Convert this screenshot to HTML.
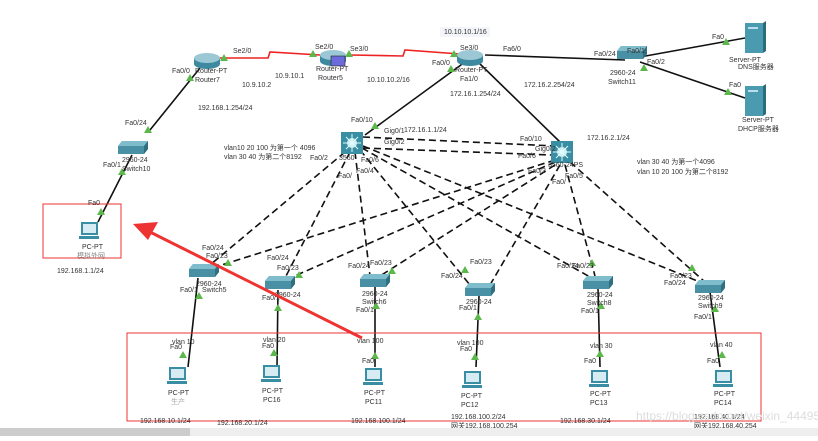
<!DOCTYPE html>
<html><head><meta charset="utf-8"><style>
body{margin:0;width:818px;height:436px;overflow:hidden;background:#fff;font-family:"Liberation Sans","Noto Sans CJK SC",sans-serif}
svg text{font-family:"Liberation Sans","Noto Sans CJK SC",sans-serif;font-size:7px;fill:#333}
.lb{fill:#f3f5fa}
</style></head><body>
<svg width="818" height="436" viewBox="0 0 818 436">
<defs>
<g id="sw"><path d="M-15,-4 L-11,-9 L15,-9 L15,-1 L11,4 L-15,4 Z" fill="#4a90a4"/><path d="M-15,-4 L-11,-9 L15,-9 L11,-4 Z" fill="#7fbccc"/><path d="M11,-4 L15,-9 L15,-1 L11,4Z" fill="#2f6f80"/></g>
<g id="ml"><rect x="-11" y="-11" width="22" height="22" fill="#3a8ea3"/><circle r="5" fill="#cfe8ef"/><path d="M-9,0H9M0,-9V9M-6,-6L6,6M6,-6L-6,6" stroke="#dff" stroke-width="1"/></g>
<g id="rt"><ellipse cx="0" cy="4" rx="13" ry="5" fill="#3d8aa0"/><rect x="-13" y="-2" width="26" height="6" fill="#3d8aa0"/><ellipse cx="0" cy="-2" rx="13" ry="5" fill="#9cc8d6"/></g>
<g id="pc"><rect x="-9" y="-10" width="17" height="13" fill="#3a8ea3"/><rect x="-7" y="-8" width="13" height="9" fill="#d6ecf2"/><rect x="-11" y="4" width="20" height="3" fill="#3a8ea3"/></g>
<g id="sv"><rect x="-9" y="-14" width="18" height="30" fill="#4a9ab0"/><path d="M9,-14 L12,-16 L12,14 L9,16Z" fill="#2c6b7c"/><rect x="-6" y="-10" width="10" height="2" fill="#bde"/></g>
<path id="g" d="M-4,3 L0,-4 L4,3Z" fill="#5cb84a"/>
</defs>
<g stroke="#111" stroke-width="1.6" fill="none">
<line x1="200" y1="68" x2="150" y2="130"/><line x1="132" y1="155" x2="98" y2="222"/>
<line x1="465" y1="62" x2="365" y2="135"/><line x1="478" y1="62" x2="560" y2="142"/>
<line x1="485" y1="55" x2="625" y2="60"/><line x1="640" y1="57" x2="745" y2="38"/><line x1="640" y1="62" x2="745" y2="98"/>
<line x1="198" y1="278" x2="188" y2="367"/><line x1="278" y1="290" x2="277" y2="367"/><line x1="375" y1="287" x2="375" y2="367"/>
<line x1="479" y1="296" x2="476" y2="367"/><line x1="598" y1="288" x2="600" y2="367"/><line x1="710" y1="292" x2="720" y2="367"/>
</g>
<path d="M215,58 L268,58 L270,52 L320,55 M350,55 L403,56 L405,50 L460,54" stroke="#e22" stroke-width="1.6" fill="none"/>
<g stroke="#111" stroke-width="1.6" stroke-dasharray="7,4" fill="none">
<line x1="363" y1="137" x2="555" y2="146"/><line x1="363" y1="148" x2="552" y2="155"/>
<line x1="345" y1="152" x2="210" y2="265"/><line x1="350" y1="152" x2="285" y2="278"/><line x1="355" y1="152" x2="370" y2="276"/>
<line x1="360" y1="150" x2="470" y2="285"/><line x1="362" y1="148" x2="590" y2="277"/><line x1="363" y1="146" x2="700" y2="282"/>
<line x1="555" y1="160" x2="212" y2="268"/><line x1="555" y1="162" x2="290" y2="278"/><line x1="555" y1="165" x2="380" y2="276"/>
<line x1="560" y1="165" x2="490" y2="285"/><line x1="565" y1="165" x2="595" y2="276"/><line x1="570" y1="162" x2="705" y2="282"/>
</g>
<g>
<use href="#g" x="224" y="58"/><use href="#g" x="313" y="54"/><use href="#g" x="349" y="54"/><use href="#g" x="454" y="54"/>
<use href="#g" x="190" y="78"/><use href="#g" x="148" y="130"/><use href="#g" x="122" y="172"/><use href="#g" x="101" y="212"/>
<use href="#g" x="375" y="126"/><use href="#g" x="451" y="69"/><use href="#g" x="644" y="68"/><use href="#g" x="726" y="42"/><use href="#g" x="728" y="92"/>
<use href="#g" x="199" y="296"/><use href="#g" x="278" y="308"/><use href="#g" x="376" y="306"/><use href="#g" x="478" y="317"/><use href="#g" x="601" y="306"/><use href="#g" x="715" y="309"/>
<use href="#g" x="183" y="355"/><use href="#g" x="274" y="353"/><use href="#g" x="375" y="356"/><use href="#g" x="475" y="357"/><use href="#g" x="600" y="354"/><use href="#g" x="722" y="355"/>
<use href="#g" x="228" y="263"/><use href="#g" x="299" y="275"/><use href="#g" x="392" y="271"/><use href="#g" x="465" y="270"/><use href="#g" x="592" y="263"/><use href="#g" x="692" y="268"/>
</g>
<rect x="43" y="204" width="78" height="54" fill="none" stroke="#e33" stroke-width="1"/>
<rect x="127" y="333" width="634" height="88" fill="none" stroke="#e33" stroke-width="1"/>
<use href="#rt" x="207" y="60"/><use href="#rt" x="333" y="57"/><rect x="331" y="56" width="14" height="10" fill="#6b6bdc" stroke="#222" stroke-width=".6"/><use href="#rt" x="470" y="57"/>
<use href="#sw" x="632" y="55"/><use href="#sv" x="754" y="37"/><use href="#sv" x="754" y="100"/>
<use href="#sw" x="133" y="150"/><use href="#ml" x="352" y="143"/><use href="#ml" x="562" y="152"/>
<use href="#sw" x="204" y="273"/><use href="#sw" x="280" y="285"/><use href="#sw" x="375" y="283"/><use href="#sw" x="480" y="292"/><use href="#sw" x="598" y="285"/><use href="#sw" x="710" y="289"/>
<use href="#pc" x="90" y="232"/><use href="#pc" x="178" y="377"/><use href="#pc" x="272" y="375"/><use href="#pc" x="374" y="378"/><use href="#pc" x="473" y="381"/><use href="#pc" x="600" y="380"/><use href="#pc" x="724" y="380"/>
<rect class="lb" x="440" y="27" width="50" height="10"/><text x="444" y="34">10.10.10.1/16</text>
<text x="233" y="53">Se2/0</text><text x="315" y="49">Se2/0</text><text x="350" y="51">Se3/0</text><text x="460" y="50">Se3/0</text><text x="503" y="51">Fa6/0</text>
<text x="172" y="73">Fa0/0</text><text x="195" y="73">Router-PT</text><text x="195" y="82">Router7</text>
<text x="316" y="71">Router-PT</text><text x="318" y="80">Router5</text><text x="432" y="65">Fa0/0</text><text x="455" y="72">Router-PT</text><text x="460" y="81">Fa1/0</text>
<text x="275" y="78">10.9.10.1</text><text x="242" y="87">10.9.10.2</text><text x="367" y="82">10.10.10.2/16</text>
<text x="450" y="96">172.16.1.254/24</text><text x="524" y="87">172.16.2.254/24</text><text x="198" y="110">192.168.1.254/24</text>
<text x="594" y="56">Fa0/24</text><text x="627" y="53">Fa0/1</text><text x="647" y="64">Fa0/2</text><text x="610" y="75">2960-24</text><text x="608" y="84">Switch11</text>
<text x="712" y="39">Fa0</text><text x="729" y="62">Server-PT</text><text x="738" y="69">DNS服务器</text>
<text x="729" y="87">Fa0</text><text x="742" y="122">Server-PT</text><text x="738" y="131">DHCP服务器</text>
<text x="125" y="125">Fa0/24</text><text x="103" y="167">Fa0/1</text><text x="122" y="162">2960-24</text><text x="122" y="171">Switch10</text>
<text x="88" y="205">Fa0</text><text x="82" y="249">PC-PT</text><text x="77" y="258" style="fill:#888">模拟外网</text><text x="57" y="273">192.168.1.1/24</text>
<text x="351" y="122">Fa0/10</text><text x="384" y="133">Gig0/1</text><text x="384" y="144">Gig0/2</text><text x="404" y="132">172.16.1.1/24</text>
<text x="224" y="150">vlan10 20 100 为第一个 4096</text><text x="224" y="159">vlan 30 40 为第二个8192</text>
<text x="310" y="160">Fa0/2</text><text x="339" y="160">3560</text><text x="361" y="162">Fa0/6</text><text x="338" y="178">Fa0/</text><text x="356" y="173">Fa0/4</text>
<text x="520" y="141">Fa0/10</text><text x="535" y="151">Gig0/2</text><text x="518" y="158">Fa0/6</text><text x="528" y="173">Fa0/3</text><text x="548" y="167">3560-24PS</text><text x="552" y="184">Fa0/</text><text x="565" y="178">Fa0/5</text>
<text x="587" y="140">172.16.2.1/24</text><text x="637" y="164">vlan 30 40 为第一个4096</text><text x="637" y="174">vlan 10 20 100 为第二个8192</text>
<text x="202" y="250">Fa0/24</text><text x="206" y="258">Fa0/23</text><text x="196" y="286">2960-24</text><text x="180" y="292">Fa0/1</text><text x="202" y="292">Switch5</text>
<text x="267" y="260">Fa0/24</text><text x="277" y="270">Fa0/23</text><text x="262" y="300">Fa0/1</text><text x="275" y="297">2960-24</text>
<text x="348" y="268">Fa0/24</text><text x="370" y="265">Fa0/23</text><text x="362" y="296">2960-24</text><text x="362" y="304">Switch6</text><text x="356" y="312">Fa0/1</text>
<text x="441" y="278">Fa0/24</text><text x="470" y="264">Fa0/23</text><text x="466" y="304">2960-24</text><text x="459" y="310">Fa0/1</text>
<text x="557" y="268">Fa0/24</text><text x="572" y="268">Fa0/23</text><text x="587" y="297">2960-24</text><text x="587" y="305">Switch8</text><text x="581" y="313">Fa0/1</text>
<text x="664" y="285">Fa0/24</text><text x="670" y="278">Fa0/23</text><text x="698" y="300">2960-24</text><text x="698" y="308">Switch9</text><text x="694" y="319">Fa0/1</text>
<text x="172" y="344">vlan 10</text><text x="170" y="349">Fa0</text><text x="168" y="395">PC-PT</text><text x="171" y="404" style="fill:#aaa">生产</text>
<text x="263" y="342">vlan 20</text><text x="262" y="348">Fa0</text><text x="262" y="393">PC-PT</text><text x="263" y="402">PC16</text>
<text x="357" y="343">vlan 100</text><text x="362" y="363">Fa0</text><text x="364" y="395">PC-PT</text><text x="365" y="404">PC11</text>
<text x="457" y="345">vlan 100</text><text x="460" y="351">Fa0</text><text x="461" y="398">PC-PT</text><text x="461" y="407">PC12</text>
<text x="590" y="348">vlan 30</text><text x="584" y="363">Fa0</text><text x="590" y="396">PC-PT</text><text x="590" y="405">PC13</text>
<text x="710" y="347">vlan 40</text><text x="707" y="363">Fa0</text><text x="714" y="396">PC-PT</text><text x="714" y="405">PC14</text>
<text x="140" y="423">192.168.10.1/24</text><text x="217" y="425">192.168.20.1/24</text><text x="351" y="423">192.168.100.1/24</text>
<text x="451" y="419">192.168.100.2/24</text><text x="451" y="428">网关192.168.100.254</text><text x="560" y="423">192.168.30.1/24</text>
<text x="694" y="419">192.168.40.1/24</text><text x="694" y="428">网关192.168.40.254</text>
<text x="636" y="420" style="font-size:12px;fill:#ddd">https://blog.csdn.net/weixin_44495941</text>
<line x1="362" y1="338" x2="150" y2="232" stroke="#e33" stroke-width="3"/>
<path d="M133,224 L158,222 L148,240 Z" fill="#e33"/>
<rect x="0" y="428" width="818" height="8" fill="#eee"/><rect x="0" y="428" width="190" height="8" fill="#ccc"/>
</svg>
</body></html>
